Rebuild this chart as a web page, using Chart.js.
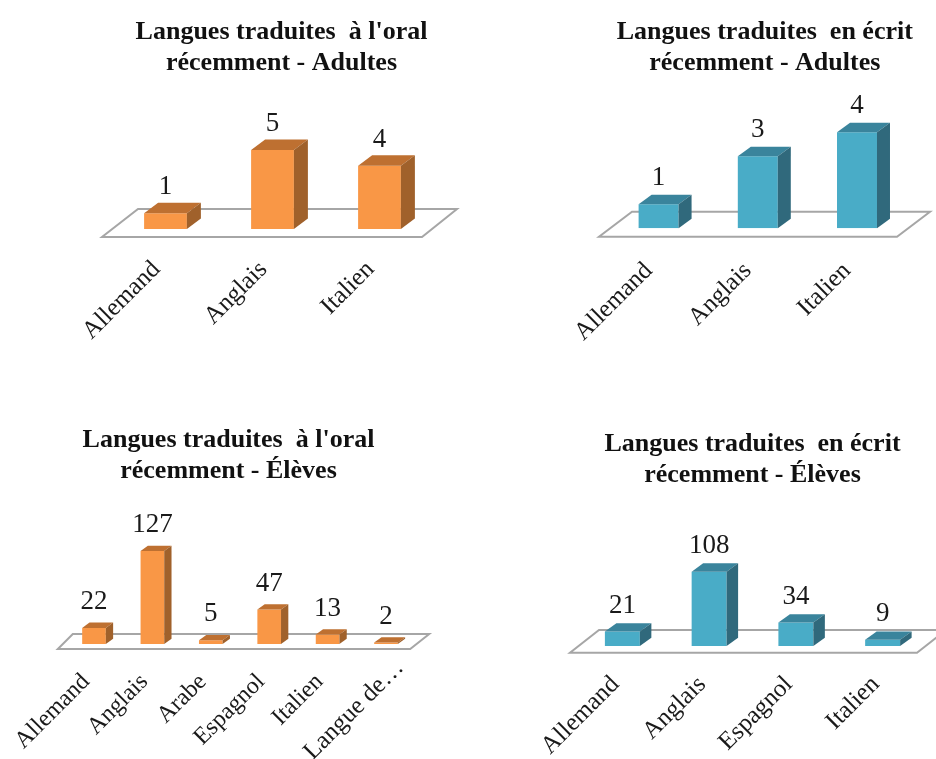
<!DOCTYPE html>
<html lang="fr">
<head>
<meta charset="utf-8">
<title>Langues traduites</title>
<script src="https://cdn.jsdelivr.net/npm/chart.js@4/dist/chart.umd.min.js"></script>
<style>
  html, body { margin: 0; padding: 0; background: #fff; width: 936px; height: 759px; overflow: hidden; }
  body { position: relative; }
  canvas { position: absolute; }
</style>
</head>
<body>
<canvas id="oralAdultes"></canvas>
<canvas id="ecritAdultes"></canvas>
<canvas id="oralEleves"></canvas>
<canvas id="ecritEleves"></canvas>
<script>
// Données
const oralAdultesLabels = ["Allemand", "Anglais", "Italien"];
const oralAdultesValues = [1, 5, 4];
const ecritAdultesLabels = ["Allemand", "Anglais", "Italien"];
const ecritAdultesValues = [1, 3, 4];
const oralElevesLabels = ["Allemand", "Anglais", "Arabe", "Espagnol", "Italien", "Langue de\u2026"];
const oralElevesValues = [22, 127, 5, 47, 13, 2];
const ecritElevesLabels = ["Allemand", "Anglais", "Espagnol", "Italien"];
const ecritElevesValues = [21, 108, 34, 9];

const orange = { front: "#F99746", top: "#BE7031", side: "#A0612B" };
const bleu = { front: "#49ACC7", top: "#3A849C", side: "#30697C" };
const FONT = "'Liberation Serif', serif";

// Faces 3D, sol et valeurs : tout part des éléments calculés par Chart.js
const bars3d = {
  id: "bars3d",
  // Le titre n'est pas centré sur la zone du graphique dans l'original
  afterLayout(chart, args, o) {
    chart.titleBlock.left += o.titleShift;
    chart.titleBlock.right += o.titleShift;
  },
  beforeDatasetsDraw(chart, args, o) {
    const { ctx, chartArea: a } = chart;
    const base = a.bottom;
    ctx.save();
    ctx.beginPath();
    ctx.moveTo(a.left + o.floor.frontL, base + o.floor.front);
    ctx.lineTo(a.right + o.floor.frontR, base + o.floor.front);
    ctx.lineTo(a.right + o.floor.backR, base + o.floor.back);
    ctx.lineTo(a.left + o.floor.backL, base + o.floor.back);
    ctx.closePath();
    ctx.fillStyle = "#fff";
    ctx.fill();
    ctx.strokeStyle = "#A6A6A6";
    ctx.lineWidth = 2;
    ctx.stroke();
    ctx.restore();
  },
  afterDatasetsDraw(chart, args, o) {
    const { ctx } = chart;
    const values = chart.data.datasets[0].data;
    chart.getDatasetMeta(0).data.forEach(function (bar, i) {
      const x0 = bar.x - bar.width / 2;
      const x1 = bar.x + bar.width / 2;
      const y = bar.y;
      const b = bar.base;
      ctx.save();
      ctx.fillStyle = o.colors.top;
      ctx.beginPath();
      ctx.moveTo(x0, y);
      ctx.lineTo(x1, y);
      ctx.lineTo(x1 + o.dx, y - o.dy);
      ctx.lineTo(x0 + o.dx, y - o.dy);
      ctx.closePath();
      ctx.fill();
      ctx.fillStyle = o.colors.side;
      ctx.beginPath();
      ctx.moveTo(x1, y);
      ctx.lineTo(x1 + o.dx, y - o.dy);
      ctx.lineTo(x1 + o.dx, b - o.dy);
      ctx.lineTo(x1, b);
      ctx.closePath();
      ctx.fill();
      ctx.fillStyle = "#1a1a1a";
      ctx.font = "27px " + FONT;
      ctx.textAlign = "center";
      ctx.textBaseline = "middle";
      ctx.fillText(String(values[i]), bar.x, y - 26);
      ctx.restore();
    });
  },
  // Le libellé tronqué est décalé vers la droite dans l'original
  afterDraw(chart, args, o) {
    if (!o.shifted) return;
    const { ctx, scales, chartArea } = chart;
    const i = o.shifted.index;
    ctx.save();
    ctx.translate(scales.x.getPixelForTick(i) + o.shifted.dx, chartArea.bottom + o.shifted.dy);
    ctx.rotate(-Math.PI / 4);
    ctx.fillStyle = "#1a1a1a";
    ctx.font = o.shifted.size + "px " + FONT;
    ctx.textAlign = "right";
    ctx.textBaseline = "middle";
    ctx.fillText(chart.data.labels[i], 0, 0);
    ctx.restore();
  },
};

function dessiner(id, labels, values, title, colors, g) {
  const canvas = document.getElementById(id);
  canvas.style.left = g.left + "px";
  canvas.style.top = g.top + "px";
  canvas.width = g.width;
  canvas.height = g.height;
  canvas.style.width = g.width + "px";
  canvas.style.height = g.height + "px";
  new Chart(canvas, {
    type: "bar",
    data: {
      labels: labels,
      datasets: [{ data: values, backgroundColor: colors.front, barPercentage: g.barPct, categoryPercentage: 1 }],
    },
    plugins: [bars3d],
    options: {
      responsive: false,
      animation: false,
      devicePixelRatio: 1,
      layout: { padding: { left: g.padLeft, right: g.padRight, top: 0, bottom: 0 } },
      plugins: {
        legend: { display: false },
        tooltip: { enabled: false },
        title: {
          display: true,
          text: title,
          color: "#111",
          font: { family: FONT, size: 26, weight: "bold", lineHeight: 31 / 26 },
          padding: { top: g.titleTop, bottom: g.titleBottom },
        },
        bars3d: { colors: colors, dx: g.dx, dy: g.dy, floor: g.floor, shifted: g.shifted, titleShift: g.titleShift },
      },
      scales: {
        y: { display: false, min: 0, max: g.yMax },
        x: {
          grid: { display: false },
          border: { display: false },
          afterFit(s) {
            s.height = g.axisH;
            s.paddingLeft = 0;
            s.paddingRight = 0;
          },
          ticks: {
            autoSkip: false,
            maxRotation: 45,
            minRotation: 45,
            padding: g.tickPad,
            labelOffset: g.labelOffset,
            color: "#1a1a1a",
            font: { family: FONT, size: g.tickSize },
            callback(value, index) {
              if (g.shifted && g.shifted.index === index) return "";
              return this.getLabelForValue(value);
            },
          },
        },
      },
    },
  });
}

dessiner("oralAdultes", oralAdultesLabels, oralAdultesValues,
  ["Langues traduites  à l'oral", "récemment - Adultes"], orange, {
    left: 0, top: 0, width: 563, height: 385, padLeft: 112, padRight: 130, axisH: 156, titleShift: 9,
    titleTop: 16.5, titleBottom: 55.7, yMax: 6, barPct: 0.4, dx: 14, dy: 10.5, tickPad: 18, tickSize: 25, labelOffset: -9,
    floor: { front: 8, back: -20, frontL: -10, frontR: -11, backL: 26, backR: 24 },
  });
dessiner("ecritAdultes", ecritAdultesLabels, ecritAdultesValues,
  ["Langues traduites  en écrit", "récemment - Adultes"], bleu, {
    left: 500, top: 0, width: 529, height: 385, padLeft: 109, padRight: 122.4, axisH: 156.7, titleShift: 7,
    titleTop: 16.5, titleBottom: 29.8, yMax: 5, barPct: 0.403, dx: 13, dy: 9.5, tickPad: 20, tickSize: 25, labelOffset: -10,
    floor: { front: 8.4, back: -16.6, frontL: -10, frontR: -9.6, backL: 23, backR: 23.4 },
  });
dessiner("oralEleves", oralElevesLabels, oralElevesValues,
  ["Langues traduites  à l'oral", "récemment - Élèves"], orange, {
    left: 0, top: 395, width: 457, height: 364, padLeft: 64.8, padRight: 41.8, axisH: 115, titleShift: -11.5,
    titleTop: 29.5, titleBottom: 55, yMax: 140, barPct: 0.405, dx: 7.3, dy: 5.3, tickPad: 16, tickSize: 24, labelOffset: -8,
    floor: { front: 5, back: -10, frontL: -7, frontR: -5, backL: 8, backR: 14 },
    shifted: { index: 5, dx: 14, dy: 20, size: 25 },
  });
dessiner("ecritEleves", ecritElevesLabels, ecritElevesValues,
  ["Langues traduites  en écrit", "récemment - Élèves"], bleu, {
    left: 520, top: 400, width: 465, height: 359, padLeft: 59, padRight: 59, axisH: 113, titleShift: 0,
    titleTop: 28.5, titleBottom: 72.9, yMax: 120, barPct: 0.403, dx: 11.5, dy: 8.3, tickPad: 16, tickSize: 25, labelOffset: -7,
    floor: { front: 6.7, back: -16, frontL: -9, frontR: -9, backL: 20, backR: 20 },
  });
</script>
</body>
</html>
